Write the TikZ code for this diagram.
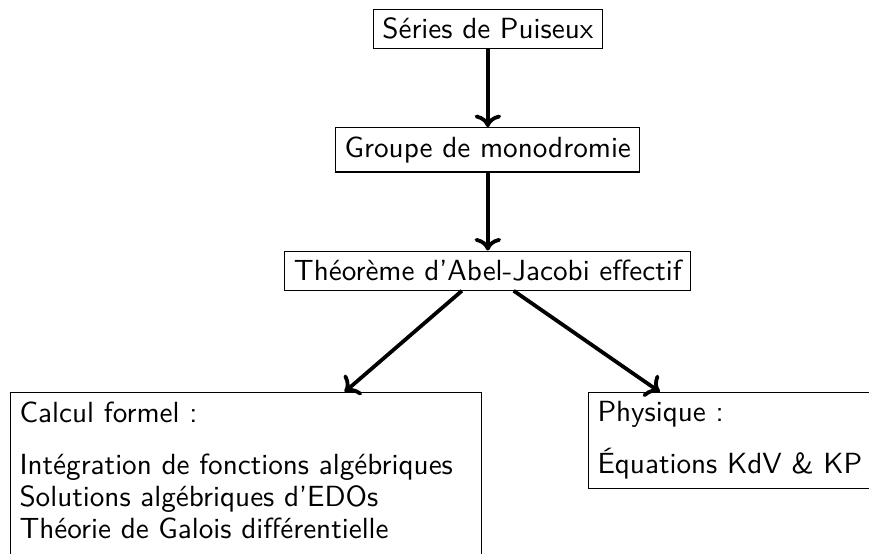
\documentclass[tikz,border=0pt]{standalone}
\usepackage{fontspec}
\usepackage{tikz}
\usetikzlibrary{positioning,arrows.meta}
\tikzset{
  box/.style={draw,font=\sffamily\fontsize{10.8pt}{11.9pt}\selectfont},
  info/.style={box,align=left,anchor=north west,text width=5.9cm},
  arr/.style={->,line width=1.4pt}
}

\begin{document}
\begin{tikzpicture}[node distance=28.9pt]
  \clip (0,0) rectangle (321.9pt,-205.2pt);
  \node[box] (puiseux) at (180.7pt,-10.7pt) {Séries de Puiseux};
  \node[box,below=of puiseux] (mono) {Groupe de monodromie};
  \node[box,below=of mono] (abel) {Théorème d’Abel-Jacobi effectif};
  \node[info,text depth=50pt] (calc) at (3.7pt,-145.2pt) {Calcul formel :\\[7.4pt]
    Intégration de fonctions algébriques\\
    Solutions algébriques d’EDOs\\
    Théorie de Galois différentielle};
  \node[info] (phys) at (217.8pt,-145.2pt) {Physique :\\[7.4pt]
    Équations KdV \& KP};
  \draw[arr] (puiseux) -- (mono);
  \draw[arr] (mono) -- (abel);
  \draw[arr] ([xshift=-9.6pt]abel.south) -- ([xshift=36.5pt]calc.north);
  \draw[arr] ([xshift=9.6pt]abel.south) -- ([xshift=26.6pt]phys.north west);
\end{tikzpicture}
\end{document}
